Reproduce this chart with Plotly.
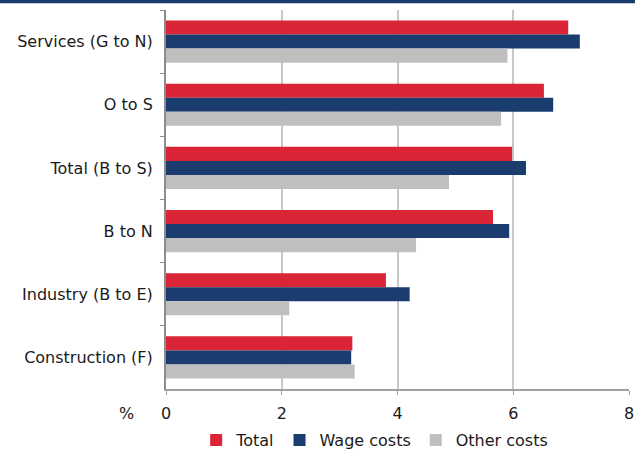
import plotly.graph_objects as go

categories = ["Services (G to N)", "O to S", "Total (B to S)", "B to N",
              "Industry (B to E)", "Construction (F)"]
total = [6.95, 6.53, 5.98, 5.65, 3.80, 3.22]
wage_costs = [7.15, 6.69, 6.22, 5.93, 4.21, 3.20]
other_costs = [5.90, 5.79, 4.89, 4.32, 2.13, 3.26]
x_ticks = [0, 2, 4, 6, 8]

FONT = "DejaVu Sans"

fig = go.Figure()
for name, vals, col in [("Total", total, "#DA2536"),
                        ("Wage costs", wage_costs, "#1A3C6E"),
                        ("Other costs", other_costs, "#BFBFBF")]:
    fig.add_trace(go.Bar(y=categories, x=vals, name=name, orientation="h",
                         marker=dict(color=col, line=dict(width=0))))

fig.update_layout(
    width=635, height=450,
    margin=dict(l=166, r=6, t=10, b=61, autoexpand=False),
    barmode="group", bargap=0.333, bargroupgap=0,
    plot_bgcolor="white", paper_bgcolor="white",
    font=dict(family=FONT, size=16, color="#1a1a1a"),
    showlegend=True,
    legend=dict(orientation="h", x=0.59, xref="container", xanchor="center",
                y=(450 - 440) / 450, yref="container", yanchor="middle",
                font=dict(size=16), itemwidth=30, traceorder="normal"),
    xaxis=dict(range=[0, 8], tickvals=x_ticks, showgrid=True, gridcolor="#C8C8C8",
               gridwidth=1.5, zeroline=False, showline=True, linecolor="#A0A0A0",
               linewidth=1.5, ticks="outside", ticklen=4, tickcolor="#A0A0A0",
               tickfont=dict(size=16), ticklabelstandoff=5, automargin=False),
    yaxis=dict(autorange="reversed", showline=True, linecolor="#8C8C8C", linewidth=2,
               ticks="outside", ticklen=4, tickcolor="#8C8C8C", tickson="boundaries",
               showgrid=False, ticklabelstandoff=8, automargin=False),
    shapes=[dict(type="rect", xref="paper", yref="paper", x0=-1, x1=2,
                 y0=1 + (10 - 3.3) / 379, y1=1 + 12 / 379,
                 fillcolor="#1B3B6F", line=dict(width=0), layer="above")],
    annotations=[dict(text="%", xref="paper", yref="paper", x=(126 - 166) / 463,
                      y=-(413 - 389) / 379, xanchor="center", yanchor="middle",
                      showarrow=False, font=dict(size=16))],
)

fig.write_html("out.html")
